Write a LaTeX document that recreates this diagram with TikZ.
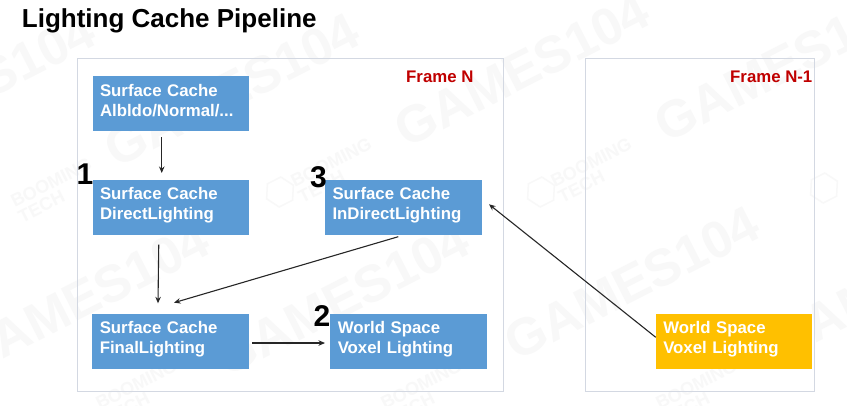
\documentclass[tikz,border=0pt]{standalone}
\usepackage{fontspec}
\setmainfont{Liberation Sans}
\usetikzlibrary{arrows.meta,shapes.geometric}
\definecolor{boxblue}{HTML}{5B9BD5}
\definecolor{boxgold}{HTML}{FFC000}
\definecolor{framered}{HTML}{C00000}
\definecolor{frameline}{HTML}{D3D8E2}
\definecolor{wmark}{HTML}{F8F8F8}
\tikzset{
  cachebox/.style={minimum width=156.5pt,minimum height=55pt,inner sep=0pt,outer sep=0pt,fill=boxblue,text=white,
    font=\fontsize{16.8}{20}\selectfont\bfseries,align=left,text width=141.5pt,
    execute at end node={\par\vspace*{4pt}}},
  goldbox/.style={cachebox,fill=boxgold},
  framebox/.style={draw=frameline,line width=0.9pt,minimum height=333.5pt,inner sep=0pt,outer sep=0pt},
  framelabel/.style={anchor=base west,inner sep=0pt,text=framered,font=\fontsize{16.8}{20}\selectfont\bfseries},
  stepnum/.style={anchor=base,inner sep=0pt,font=\fontsize{30}{30}\selectfont\bfseries},
  flow/.style={draw=black!85,line width=1.1pt,-{Stealth[length=6.5pt,width=5.5pt]}},
  gamesmark/.style={inner sep=0pt,text=wmark,rotate=27,font=\fontsize{52}{52}\selectfont\bfseries},
  techmark/.style={inner sep=0pt,text=wmark,rotate=27,align=left,font=\fontsize{18}{17}\selectfont\bfseries},
  logomark/.style={regular polygon,regular polygon sides=6,draw=wmark,line width=1.5pt,minimum size=30pt,inner sep=0pt,rotate=27},
}
\begin{document}
\begin{tikzpicture}[x=1pt,y=-1pt]
\useasboundingbox (0,0) rectangle (847,405);
\fill[white] (0,0) rectangle (847,405);
\node[gamesmark] (g1) at (-32,90) {GAMES104};
\node[gamesmark] (g2) at (232,90) {GAMES104};
\node[gamesmark] (g3) at (522,70) {GAMES104};
\node[gamesmark] (g4) at (782,65) {GAMES104};
\node[gamesmark] (g5) at (82,299) {GAMES104};
\node[gamesmark] (g6) at (342,299) {GAMES104};
\node[gamesmark] (g7) at (632,283) {GAMES104};
\node[gamesmark] (g8) at (895,283) {GAMES104};
\node[techmark] (t1) at (55,190) {BOOMING\\TECH};
\node[techmark] (t2) at (335,170) {BOOMING\\TECH};
\node[techmark] (t3) at (595,170) {BOOMING\\TECH};
\node[techmark] (t4) at (140,392) {BOOMING\\TECH};
\node[techmark] (t5) at (425,392) {BOOMING\\TECH};
\node[techmark] (t6) at (700,392) {BOOMING\\TECH};
\node[logomark] (m2) at (280,192) {};
\node[logomark] (m3) at (541,192) {};
\node[logomark] (m4) at (824,188) {};
\node[framebox,minimum width=425.5pt] (fn) at (290.25,224.75) {};
\node[framebox,minimum width=228.5pt] (fp) at (699.75,224.75) {};
\node[anchor=base west,inner sep=0pt,font=\fontsize{26}{26}\selectfont\bfseries] (title) at (21.7,27.2) {Lighting Cache Pipeline};
\node[framelabel] (ln) at (406,82.7) {Frame N};
\node[framelabel] (lp) at (730,82.7) {Frame N-1};
\node[cachebox] (a) at (170.75,103) {Surface Cache\\Albldo/Normal/...};
\node[cachebox] (b) at (170.75,207.5) {Surface Cache\\DirectLighting};
\node[cachebox] (c) at (403.25,207) {Surface Cache\\InDirectLighting};
\node[cachebox] (d) at (170.5,341.5) {Surface Cache\\FinalLighting};
\node[cachebox] (e) at (408.5,341.5) {World Space\\Voxel Lighting};
\node[goldbox] (f) at (734,341.5) {World Space\\Voxel Lighting};
\node[stepnum] (n1) at (85,184) {1};
\node[stepnum] (n3) at (318.5,187) {3};
\node[stepnum] (n2) at (322,326) {2};
\draw[flow] ([xshift=-9pt,yshift=-6.5pt]a.south) -- ([xshift=-9pt,yshift=7pt]b.north);
\draw[flow] ([xshift=-12pt,yshift=-9.7pt]b.south) -- ([xshift=-12.5pt,yshift=10.7pt]d.north);
\draw[flow] ([xshift=-5pt,yshift=-2.2pt]c.south) -- ([xshift=3.5pt,yshift=11.3pt]d.north);
\draw[flow] ([xshift=3.5pt,yshift=-1.5pt]d.east) -- ([xshift=-5.25pt,yshift=-1.5pt]e.west);
\draw[flow] ([yshift=4.2pt]f.west) -- ([xshift=7.5pt,yshift=2.7pt]c.east);
\end{tikzpicture}
\end{document}
